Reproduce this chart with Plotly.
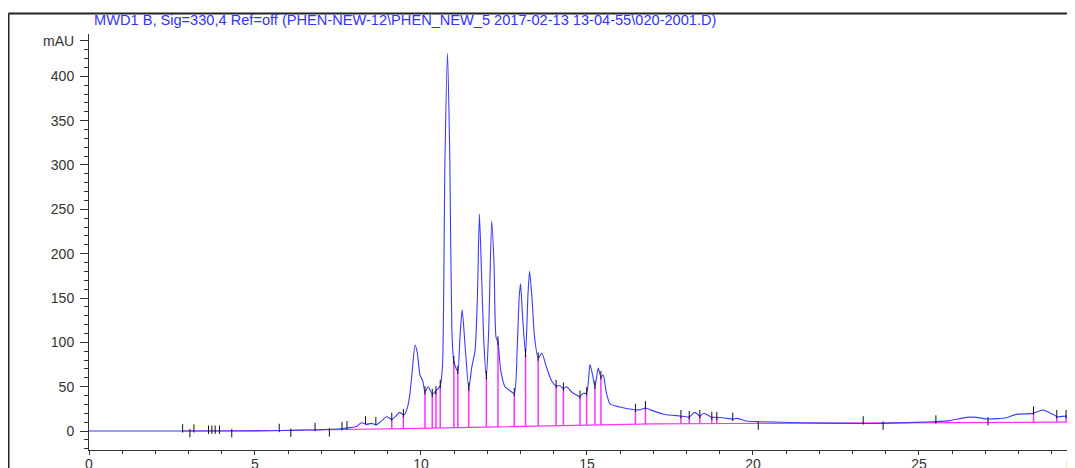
import plotly.graph_objects as go

# ---- data ----
sig_time = [0, 2.8, 4.5, 5.5, 6.36, 6.76, 7.3, 7.66, 7.86, 8.05, 8.21, 8.36, 8.51, 8.66, 8.83, 8.96,
            9.12, 9.25, 9.35, 9.49, 9.58, 9.66, 9.74, 9.82, 9.89, 9.97, 10.05, 10.12, 10.22, 10.34,
            10.44, 10.58, 10.65, 10.72, 10.80, 10.87, 10.93, 10.99, 11.11, 11.17, 11.24, 11.33,
            11.44, 11.53, 11.63, 11.70, 11.76, 11.83, 11.90, 11.97, 12.04, 12.13, 12.20, 12.26,
            12.32, 12.40, 12.53, 12.68, 12.81, 12.90, 12.96, 13.00, 13.06, 13.15, 13.22, 13.27,
            13.34, 13.42, 13.53, 13.64, 13.78, 13.93, 14.07, 14.19, 14.29, 14.39, 14.54, 14.79,
            14.89, 14.99, 15.09, 15.16, 15.24, 15.34, 15.42, 15.49, 15.57, 15.69, 15.99, 16.46,
            16.60, 16.76, 16.90, 17.30, 17.80, 18.08, 18.25, 18.40, 18.52, 18.76, 18.91, 19.21,
            19.39, 19.51, 19.81, 20.21, 21.41, 22.92, 23.92, 25.43, 25.93, 26.43, 26.73, 27.08,
            27.63, 27.93, 28.43, 28.73, 28.93, 29.18, 29.43, 29.7]
sig_mau = [0, 0, 0, 0.3, 1.0, 1.2, 2.0, 2.9, 3.8, 5.0, 9.4, 7.5, 8.6, 7.0, 12, 16,
           13.5, 17, 21, 18, 25, 40, 69, 97, 88, 63, 57, 44, 50, 41.5,
           45, 51, 76, 302, 426, 302, 114, 78, 67, 103, 137, 95,
           48, 72, 91, 152, 245, 170, 95, 61, 114, 237, 189, 106,
           100, 69, 50, 45.5, 42.5, 95, 152, 166, 129, 86, 152, 180,
           152, 106, 82, 88, 72, 57, 51, 51, 48, 50, 44, 39,
           42.5, 42.5, 75, 65, 50, 71, 61, 63, 46, 31, 27, 24,
           24, 26, 24, 19, 17, 16, 21, 17, 20, 15.5, 15.5, 14.3,
           13.5, 14.3, 11.3, 10.5, 9.4, 8.6, 8.6, 10.5, 11.7, 15.4, 15.4, 13.5,
           15, 18.8, 19.9, 23.7, 20.7, 16.2, 16.9, 16.2]

base_time = [2.8, 4.3, 5.7, 10.0, 15.3, 17.0, 19.4, 25.5, 29.7]
base_mau = [0, 0.2, 0.6, 3.0, 6.8, 8.0, 8.5, 9.8, 10.0]

drop_time = [9.12, 9.47, 10.12, 10.34, 10.45, 10.58, 10.99, 11.11, 11.44, 11.97, 12.32, 12.81,
             13.15, 13.53, 14.07, 14.29, 14.79, 14.99, 15.24, 15.42, 16.46, 16.76, 17.83, 18.08,
             18.40, 18.76, 18.91, 28.45, 29.15, 29.43]
drop_top = [13.5, 17.5, 44, 41.5, 44.5, 51, 78, 67, 48, 61, 100, 42.5,
            86, 82, 51, 48, 39, 42.5, 50, 61, 24, 26, 17, 16,
            17, 15.5, 15.5, 20, 16.2, 16.9]
drop_base = [2.7, 2.8, 3.0, 3.2, 3.3, 3.3, 3.6, 3.7, 3.9, 4.3, 4.6, 5.0,
             5.3, 5.6, 6.0, 6.2, 6.5, 6.6, 6.8, 6.9, 7.5, 7.8, 8.2, 8.3,
             8.3, 8.4, 8.4, 9.9, 10.0, 10.0]

tick_time = [2.82, 3.04, 3.16, 3.6, 3.7, 3.8, 3.93, 4.3, 5.73, 6.08, 6.81, 7.24, 7.62, 7.77,
             8.33, 8.64, 9.12, 9.47, 10.12, 10.34, 10.45, 10.58, 10.99, 11.11, 11.44, 11.97,
             12.32, 12.81, 13.15, 13.53, 14.07, 14.29, 14.79, 14.99, 15.24, 15.42, 16.46, 16.76,
             17.83, 18.08, 18.40, 18.76, 18.91, 19.39, 20.16, 23.32, 23.92, 25.51, 27.08,
             28.45, 29.15, 29.43]
tick_mau = [3, -2.5, 3, 1.5, 1.5, 1.5, 1.5, -2.5, 3.5, -2, 4.5, -1.5, 5.5, 6.5,
            12, 11, 16, 20, 46, 43, 46, 53, 80, 69, 50, 63,
            102, 44, 88, 84, 53, 50, 41, 45, 52, 63, 26, 29,
            19, 18, 19, 17, 17, 16, 6, 12, 6, 13, 11,
            23, 19, 19]

y_tickvals = [0, 50, 100, 150, 200, 250, 300, 350, 400, 440]
y_ticktext = ["0", "50", "100", "150", "200", "250", "300", "350", "400", "mAU"]
x_tickvals = [0, 5, 10, 15, 20, 25]
x_ticktext = ["0", "5", "10", "15", "20", "25"]

title_text = "MWD1 B, Sig=330,4 Ref=off (PHEN-NEW-12\\PHEN_NEW_5 2017-02-13 13-04-55\\020-2001.D)"

MAGENTA = "#ff33ff"
BLUE = "#3b3bff"
AXIS = "#333333"
FONT = "Liberation Sans, Arial, sans-serif"

# page is shown with an 8px body margin -> figure origin at page (8, 8)
PLOT_W = 986
PLOT_H = 416

fig = go.Figure()

fig.add_trace(go.Scatter(x=base_time, y=base_mau, mode="lines",
                         line=dict(color=MAGENTA, width=1.2), hoverinfo="skip"))

dx, dy = [], []
for t, top, b in zip(drop_time, drop_top, drop_base):
    dx += [t, t, None]
    dy += [b, top, None]
fig.add_trace(go.Scatter(x=dx, y=dy, mode="lines",
                         line=dict(color=MAGENTA, width=1.5), hoverinfo="skip"))

fig.add_trace(go.Scatter(x=sig_time, y=sig_mau, mode="lines",
                         line=dict(color=BLUE, width=1.1, shape="spline", smoothing=0.6),
                         hoverinfo="skip"))

fig.add_trace(go.Scatter(x=tick_time, y=tick_mau, mode="markers",
                         marker=dict(symbol="line-ns", size=6,
                                     line=dict(color="#111111", width=1)),
                         hoverinfo="skip"))

fig.update_layout(
    width=1067, height=460,
    margin=dict(l=81, r=0, t=26, b=18, pad=0, autoexpand=False),
    paper_bgcolor="white", plot_bgcolor="white",
    showlegend=False,
    font=dict(family=FONT, size=14, color=AXIS),
    xaxis=dict(range=[0, 29.7], showgrid=False, zeroline=False, automargin=False,
               showline=True, linecolor=AXIS, linewidth=1,
               ticks="outside", ticklen=4, tickcolor=AXIS, tickwidth=1,
               tickvals=x_tickvals, ticktext=x_ticktext, ticklabelstandoff=-3,
               minor=dict(dtick=1, tick0=0, ticks="outside", ticklen=3,
                          tickcolor=AXIS, showgrid=False),
               tickfont=dict(size=14, color=AXIS), fixedrange=True),
    yaxis=dict(range=[-21.4, 447.7], showgrid=False, zeroline=False, automargin=False,
               showline=True, linecolor=AXIS, linewidth=1,
               ticks="outside", ticklen=8, tickcolor=AXIS, tickwidth=1,
               tickvals=y_tickvals, ticktext=y_ticktext, ticklabelstandoff=3,
               minor=dict(dtick=10, tick0=0, ticks="outside", ticklen=4,
                          tickcolor=AXIS, showgrid=False),
               tickfont=dict(size=14, color=AXIS), fixedrange=True),
)

# outer frame (left and top edges), page x=8.5 / y=13.5
fx = (8.5 - 89) / PLOT_W
fy = (450 - 13.5) / PLOT_H
fig.add_shape(type="line", xref="paper", yref="paper",
              x0=fx, x1=fx, y0=fy, y1=-0.1,
              line=dict(color="#222222", width=2))
fig.add_shape(type="line", xref="paper", yref="paper",
              x0=fx, x1=1.01, y0=fy, y1=fy,
              line=dict(color="#222222", width=2))

fig.add_annotation(text=title_text, xref="paper", yref="paper",
                   x=(92 - 89) / PLOT_W, y=(450 - 20) / PLOT_H, xanchor="left", yanchor="middle",
                   showarrow=False, font=dict(family=FONT, size=14.6, color="#3333ff"))

fig.add_annotation(text="min", xref="paper", yref="paper",
                   x=(1064 - 89) / PLOT_W, y=-0.012, xanchor="left", yanchor="top",
                   showarrow=False, font=dict(family=FONT, size=14, color=AXIS))

fig.write_html("out.html")
